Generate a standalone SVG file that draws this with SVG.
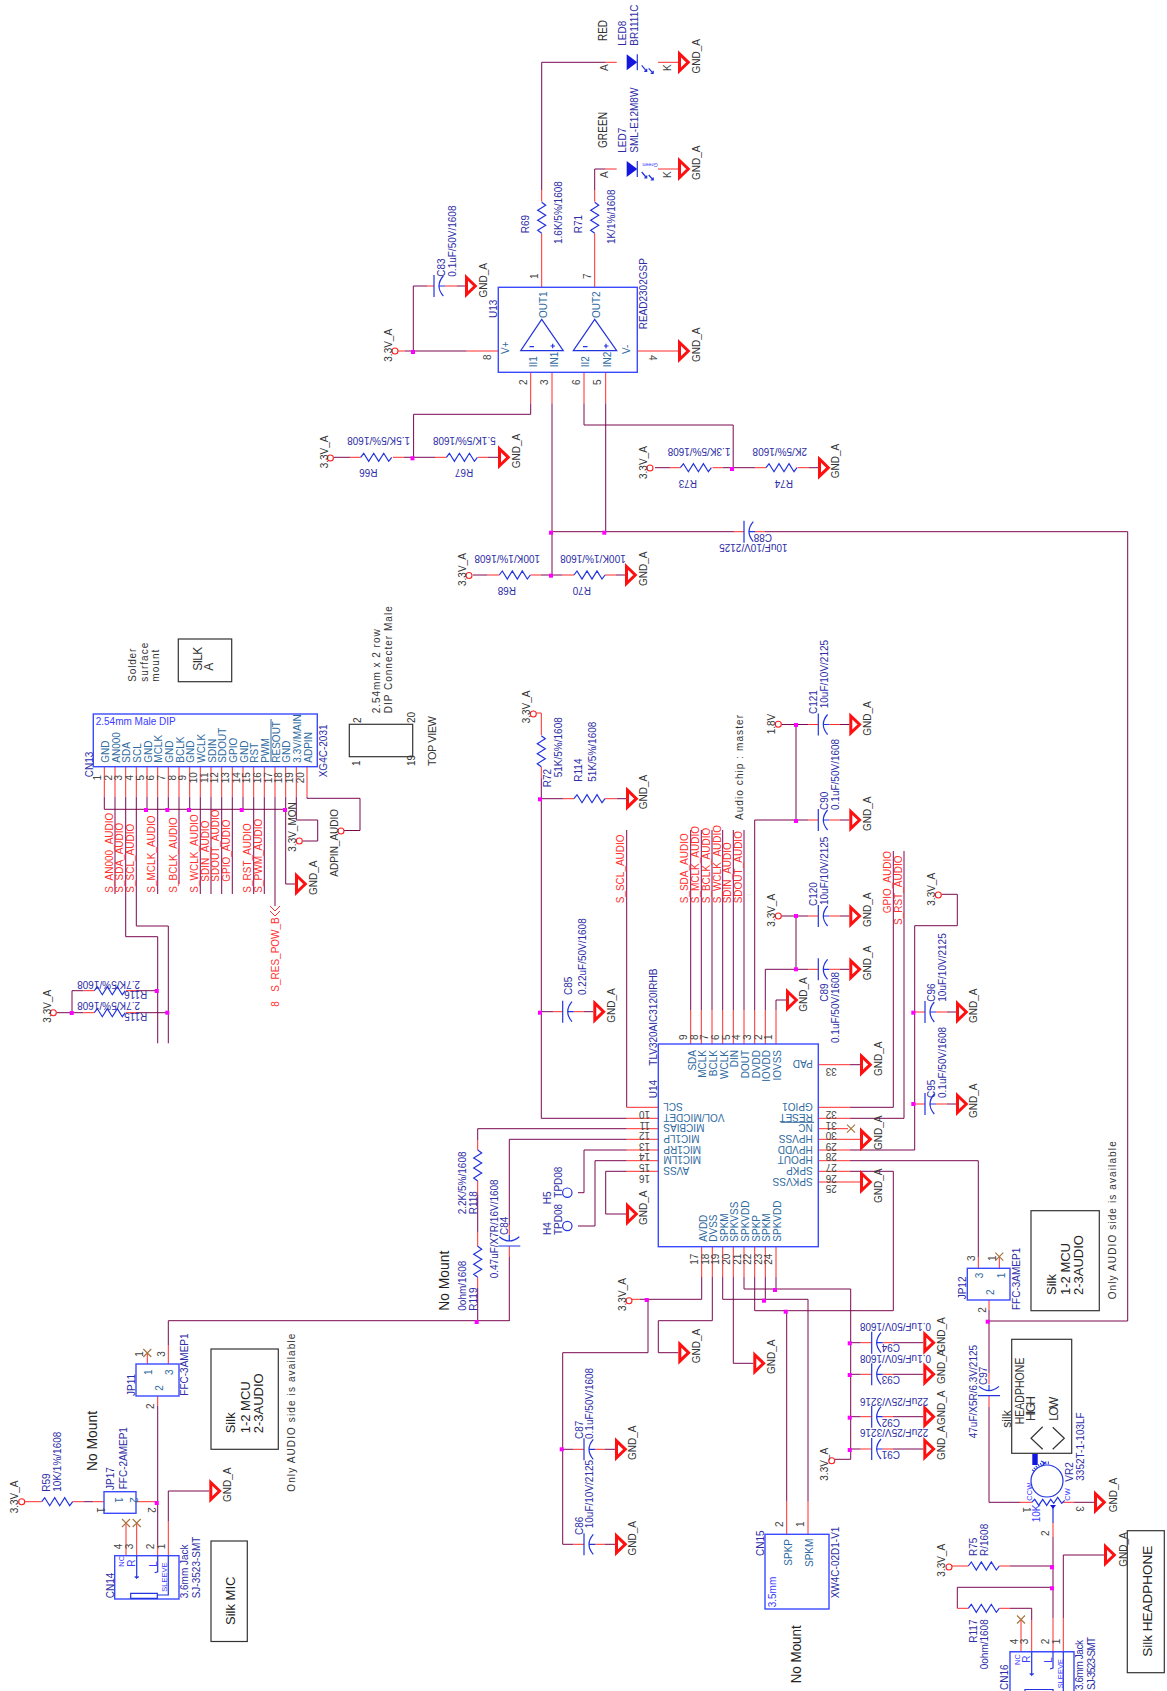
<svg xmlns="http://www.w3.org/2000/svg" width="1167" height="1691" viewBox="0 0 1167 1691">
<style>
text{font-family:"Liberation Sans",Arial,sans-serif;font-size:10px;fill:#2d2da5}
.n{fill:#2f6a9f}.k{fill:#333}.r{fill:#ff3030}.p{font-size:10px;fill:#444}.m{text-anchor:middle}.e{text-anchor:end}
.h{font-size:13px;fill:#222}.g{font-size:14px;fill:#222}.l{fill:#3a3aff}.s{font-size:7.5px;fill:#3a3aff}
.w{fill:none;stroke:#7a0850;stroke-width:1}.c{fill:none;stroke:#ff2a2a;stroke-width:1}
.u{fill:none;stroke:#2233e0;stroke-width:1.2}.bx{fill:none;stroke:#3a4aff;stroke-width:1.4}.sk{fill:none;stroke:#333;stroke-width:1.2}
</style>
<defs>
<path id="z" class="u" d="M0 0l3-4 5 8 5-8 5 8 5-8 5 8 3-4"/>
<polygon id="G" points="1.5,-8.5 10.3,0 1.5,8.5" fill="#fff" stroke="#ff1010" stroke-width="3"/>
<circle id="o" r="3" fill="#fff" stroke="#ff2020" stroke-width="1.1"/>
<rect id="j" x="-2" y="-2" width="4" height="4" fill="#f0f"/>
<g id="C" class="u"><path d="M0-11V11M9.3-10Q.7 0 9.3 10M5 0H11"/></g>
<path id="X" d="M-4-4L4 4M-4 4L4-4" fill="none" stroke="#a8703a" stroke-width="1.1"/>
<g id="D"><polygon points="0,-8 10.6,0 0,8" fill="#1515e0"/><path class="u" d="M10.6-8V8M15 3l5 6m-2.500 0h2.500v-2.500M22 6l4.500 5m-2.500 0h2.500v-2.500"/></g>
</defs>
<rect width="1167" height="1691" fill="#fff"/>

<g id="connectors">
<path class="w" d="M541.700 190V62.300H605.700M594.700 190V169H605.700M405 351H466.700M413.300 351V286H427M457 286H465M530.700 403.300V414.300H413.600V457.300M334 457.300H350M403.600 457.300H435M488 457.300H498M584 403.300V425H733.200V468.300M655 467.700H670M723 467.700H755.400M809 467.700H818M552 403.300V575.700M605.700 403.300V531.700M551 531.700H734M765 531.700H1127.700V1321H988.300M473 575H487.500M541 575H562.500M616 575H625"/>
<path class="c" d="M541.700 287.300V233.300M541.700 201.700V190M594.700 287.300V233.300M594.700 201.700V190M605.700 62.300H616.700M605.700 169H616.700M658 62.300H678M658 169H678M466.700 351H498.300M398 351H405M637.300 351H678M530.700 372.300V403.300M552 372.300V403.300M584 372.300V403.300M605.700 372.300V403.300M427 286H434M445 286H457M350 457.300H360.700M392.900 457.300H403.600M435 457.300H446.400M477.900 457.300H488M670 467.700H680.400M712.500 467.700H723M755.400 467.700H766M797.500 467.700H809M487.500 575H499.300M530.400 575H541M562.500 575H574M605 575H616M734 531.700H744M755 531.700H765"/>
<path class="w" d="M104.300 796.700V809.300H285.700M147 796.700V809.300M168.300 796.700V809.300M189.700 796.700V809.300M243 796.700V809.300M285.700 796.700V884H295M115 796.700V894M125.700 796.700V936.700H157.700V1043.300M136.300 796.700V926H168.300V1043.300M157.700 796.700V894M179 796.700V884M200.300 796.700V894M211 796.700V894M221.700 796.700V894M232.300 796.700V894M253.700 796.700V894M264.300 796.700V894M275 796.700V906M296.300 796.700V820H317.700V841H302.500M307 796.700V798.300H360V830.500H344M56.500 1012.700H83.300M72 1012.700V990.700H83.300M136 990.700H157.700M136 1012.700H168.300"/>
<path class="c" d="M104.300 766.700V796.700M115 766.700V796.700M125.700 766.700V796.700M136.300 766.700V796.700M147 766.700V796.700M157.700 766.700V796.700M168.300 766.700V796.700M179 766.700V796.700M189.700 766.700V796.700M200.300 766.700V796.700M211 766.700V796.700M221.700 766.700V796.700M232.300 766.700V796.700M243 766.700V796.700M253.700 766.700V796.700M264.300 766.700V796.700M275 766.700V796.700M285.700 766.700V796.700M296.300 766.700V796.700M307 766.700V796.700M83.300 990.700H94.300M126 990.700H136M83.300 1012.700H94.300M126 1012.700H136"/>
<path class="w" d="M541.300 778V1118.300H626.700M541.300 798.700H563.300M616.700 798.700H626M541.300 1011.700H553M584 1011.700H593.300M626.700 830V1107.300M690.700 1010V830M701.300 1010V830M712 1010V830M722.700 1010V830M733.300 1010V830M744 1010V830M754.700 1010V820H808.300M796 725V820M796 916V969.300M765.300 1010V969.300H808.300M776 1010V1000H786M781.500 724.500H808.300M781.500 916H808.300M840 724.500H849.300M840 820H849.300M840 916H849.300M840 969.300H849.300M850 1107.300H893.300V851M850 1118.300H904V851M850 1150H914.700V925.700H957.300V894.300H941.500M947 1012H956M947 1104H956M850 1160.700H978.300V1257M850 1171.300H893.300V1310.700H754.700V1277M850 1064.700H860"/>
<path class="c" d="M536.300 713H541.300V735M541.300 766.700V778M563.300 798.700H574M605 798.700H616.700M553 1011.700H562.700M573.700 1011.700H584M690.700 1044V1010M701.300 1044V1010M712 1044V1010M722.700 1044V1010M733.300 1044V1010M744 1044V1010M754.700 1044V1010M765.300 1044V1010M776 1044V1010M808.300 724.500H818.300M829.300 724.500H840M808.300 820H818.300M829.300 820H840M808.300 916H818.300M829.300 916H840M808.300 969.300H818.300M829.300 969.300H840M914.700 1012H925M936 1012H947M914.700 1104H925M936 1104H947M818.300 1064.700H850M818.300 1107.300H850M818.300 1118.300H850M818.300 1128.700H848M818.300 1139.300H860M818.300 1150H850M818.300 1160.700H850M818.300 1171.300H850M818.300 1182H860M658.300 1107.300H626.700M658.300 1118.300H626.700M658.300 1128.700H626.700M658.300 1139.300H626.700M658.300 1150H626.700M658.300 1160.700H626.700M658.300 1171.300H626.700"/>
<path class="w" d="M701.700 1277V1299.300H640M648 1299.300V1352.700H562.700V1544.300H573.300M562.700 1449.300H573.300M712.300 1277V1320.700H658.300V1352.700H678.300M722.700 1277V1299.300H808V1501M733.300 1277V1363.300H753.300M744 1277V1289H850.700V1459.300H835M765.300 1277V1299.300M776 1277V1289M786.700 1310.700V1501M850.700 1342.700H860.700M850.700 1374.300H860.700M850.700 1416.700H860.700M850.700 1449H860.700M893 1342.700H923.300M893 1374.300H923.300M893 1416.700H923.300M893 1449H923.300M605 1449.300H615M605 1544.300H615M626.700 1128.700H477.700V1140M477.700 1195V1232M477.700 1288V1321M626.700 1139.300H509.300V1225M509.300 1257V1321M168.300 1320.700H509.300M168.300 1320.700V1345M626.700 1150H584V1192.700H578M626.700 1160.700H595V1226H578M626.700 1171.300H605.700V1214H626M157.700 1406V1545M168.300 1521.700V1491H209.300M83.300 1501.700H93.300"/>
<path class="c" d="M701.700 1246.700V1277M712.300 1246.700V1277M722.700 1246.700V1277M733.300 1246.700V1277M744 1246.700V1277M754.700 1246.700V1277M765.300 1246.700V1277M776 1246.700V1277M632 1299.300H640M808 1501V1534.300M786.700 1501V1534.300M860.700 1342.700H871.700M882.700 1342.700H893M860.700 1374.300H871.700M882.700 1374.300H893M860.700 1416.700H871.700M882.700 1416.700H893M860.700 1449H871.700M882.700 1449H893M573.300 1449.300H584M595 1449.300H605M573.300 1544.300H584M595 1544.300H605M477.700 1140V1150M477.700 1181V1195M477.700 1232V1246.700M477.700 1277.300V1288M509.300 1225V1235M509.300 1246V1257M168.300 1345V1364M157.700 1396V1406M157.700 1545V1555.700M168.300 1555.700V1521.700M126 1555.700V1523M136.700 1555.700V1523M147.300 1364V1353M24.700 1501.700H41.700M72.700 1501.700H83.300M93.300 1501.700H104M136 1501.700H157"/>
<path class="w" d="M989 1310V1373M989 1406.700V1502.300H1020M1074 1502.300H1094M1053 1537V1618M1010 1566H1053M1053 1587.300H957.300V1608.300M1010 1608.300H1031.700V1620M1063.300 1618V1555H1104"/>
<path class="c" d="M978.300 1268.300V1257M999.300 1268.300V1257M989 1300V1310M989 1373V1384M989 1395.700V1406.700M1020 1502.300H1031.700M1063 1502.300H1074M1053 1523V1537M1053 1618V1651.700M952 1566H968.300M999.300 1566H1010M957.300 1608.300H968.300M999.300 1608.300H1010M1031.700 1620V1651.700M1021 1651.700V1620M1063.300 1651.700V1618"/>
<use href="#j" x="413" y="352"/><use href="#j" x="412.500" y="458.300"/><use href="#j" x="732" y="469"/><use href="#j" x="551" y="532.700"/><use href="#j" x="604.300" y="532.700"/><use href="#j" x="551" y="575.700"/>
<use href="#j" x="146" y="810"/><use href="#j" x="167.300" y="810"/><use href="#j" x="189" y="810"/><use href="#j" x="241.700" y="810"/><use href="#j" x="285" y="810"/><use href="#j" x="71.700" y="1013"/><use href="#j" x="156.700" y="991"/><use href="#j" x="167.300" y="1012.700"/>
<use href="#j" x="540" y="799.300"/><use href="#j" x="540" y="1012.700"/><use href="#j" x="796" y="725"/><use href="#j" x="796" y="821"/><use href="#j" x="796" y="916"/><use href="#j" x="796" y="969.300"/><use href="#j" x="913.300" y="1012.700"/><use href="#j" x="913.300" y="1104"/>
<use href="#j" x="646.700" y="1300"/><use href="#j" x="561.700" y="1449.300"/><use href="#j" x="764" y="1300.700"/><use href="#j" x="775" y="1290"/><use href="#j" x="785.700" y="1311.700"/><use href="#j" x="849.700" y="1343.300"/><use href="#j" x="849.700" y="1375"/><use href="#j" x="849.700" y="1417.700"/><use href="#j" x="849.700" y="1450"/>
<use href="#j" x="476.700" y="1322"/><use href="#j" x="156.700" y="1503"/><use href="#j" x="987.700" y="1321.700"/><use href="#j" x="1052" y="1567.300"/><use href="#j" x="1052" y="1588.300"/>
</g>

<g id="gnd-symbols">
<use href="#G" x="678" y="62.300"/><text transform="matrix(0 -1 1 0 700 73.500)" class="k">GND_A</text>
<use href="#G" x="678" y="169"/><text transform="matrix(0 -1 1 0 700 180)" class="k">GND_A</text>
<use href="#G" x="465" y="286"/><text transform="matrix(0 -1 1 0 487 297.500)" class="k">GND_A</text>
<use href="#G" x="678" y="351"/><text transform="matrix(0 -1 1 0 700 362)" class="k">GND_A</text>
<use href="#G" x="498" y="457.300"/><text transform="matrix(0 -1 1 0 519.600 468.300)" class="k">GND_A</text>
<use href="#G" x="818" y="467.700"/><text transform="matrix(0 -1 1 0 838.600 478.300)" class="k">GND_A</text>
<use href="#G" x="625" y="575"/><text transform="matrix(0 -1 1 0 647 586)" class="k">GND_A</text>
<use href="#G" x="295" y="884"/><text transform="matrix(0 -1 1 0 316.700 895)" class="k">GND_A</text>
<use href="#G" x="626" y="798.700"/><text transform="matrix(0 -1 1 0 646.700 809.300)" class="k">GND_A</text>
<use href="#G" x="593.300" y="1011.700"/><text transform="matrix(0 -1 1 0 615 1022.700)" class="k">GND_A</text>
<use href="#G" x="849.300" y="724.500"/><text transform="matrix(0 -1 1 0 870.700 735.700)" class="k">GND_A</text>
<use href="#G" x="849.300" y="820"/><text transform="matrix(0 -1 1 0 870.700 831)" class="k">GND_A</text>
<use href="#G" x="849.300" y="916"/><text transform="matrix(0 -1 1 0 870.700 927)" class="k">GND_A</text>
<use href="#G" x="849.300" y="969.300"/><text transform="matrix(0 -1 1 0 870.700 980.300)" class="k">GND_A</text>
<use href="#G" x="786" y="1000"/><text transform="matrix(0 -1 1 0 806.700 1011.700)" class="k">GND_A</text>
<use href="#G" x="956" y="1012"/><text transform="matrix(0 -1 1 0 976.700 1023)" class="k">GND_A</text>
<use href="#G" x="956" y="1104"/><text transform="matrix(0 -1 1 0 976.700 1118)" class="k">GND_A</text>
<use href="#G" x="860" y="1064.700"/><text transform="matrix(0 -1 1 0 881.700 1076)" class="k">GND_A</text>
<use href="#G" x="860" y="1139.300"/><text transform="matrix(0 -1 1 0 881.700 1150)" class="k">GND_A</text>
<use href="#G" x="860" y="1182"/><text transform="matrix(0 -1 1 0 881.700 1203)" class="k">GND_A</text>
<use href="#G" x="626" y="1214"/><text transform="matrix(0 -1 1 0 646.700 1225)" class="k">GND_A</text>
<use href="#G" x="678.300" y="1352.700"/><text transform="matrix(0 -1 1 0 700 1363.300)" class="k">GND_A</text>
<use href="#G" x="753.300" y="1363.300"/><text transform="matrix(0 -1 1 0 775 1374)" class="k">GND_A</text>
<use href="#G" x="923.300" y="1342.700"/><text transform="matrix(0 -1 1 0 945 1351.700)" class="k">GND_A</text>
<use href="#G" x="923.300" y="1374.300"/><text transform="matrix(0 -1 1 0 945 1384)" class="k">GND_A</text>
<use href="#G" x="923.300" y="1416.700"/><text transform="matrix(0 -1 1 0 945 1425)" class="k">GND_A</text>
<use href="#G" x="923.300" y="1449"/><text transform="matrix(0 -1 1 0 945 1460)" class="k">GND_A</text>
<use href="#G" x="615" y="1449.300"/><text transform="matrix(0 -1 1 0 636 1460)" class="k">GND_A</text>
<use href="#G" x="615" y="1544.300"/><text transform="matrix(0 -1 1 0 636 1555.500)" class="k">GND_A</text>
<use href="#G" x="209.300" y="1491"/><text transform="matrix(0 -1 1 0 230.700 1502)" class="k">GND_A</text>
<use href="#G" x="1094" y="1502.300"/><text transform="matrix(0 -1 1 0 1116.700 1512.300)" class="k">GND_A</text>
<use href="#G" x="1104" y="1555"/><text transform="matrix(0 -1 1 0 1126.700 1566.700)" class="k">GND_A</text>
</g>

<g id="power-ports">
<use href="#o" x="395" y="351"/><text transform="matrix(0 -1 1 0 391.700 361.700)" class="k">3.3V_A</text>
<use href="#o" x="330.400" y="458"/><text transform="matrix(0 -1 1 0 327.500 468.300)" class="k">3.3V_A</text>
<use href="#o" x="650" y="468"/><text transform="matrix(0 -1 1 0 647 479)" class="k">3.3V_A</text>
<use href="#o" x="469" y="575.500"/><text transform="matrix(0 -1 1 0 466 586)" class="k">3.3V_A</text>
<use href="#o" x="533.300" y="714"/><text transform="matrix(0 -1 1 0 530 723.300)" class="k">3.3V_A</text>
<use href="#o" x="778.300" y="916"/><text transform="matrix(0 -1 1 0 775 926.700)" class="k">3.3V_A</text>
<use href="#o" x="938.300" y="895"/><text transform="matrix(0 -1 1 0 935 905.700)" class="k">3.3V_A</text>
<use href="#o" x="53.300" y="1012.700"/><text transform="matrix(0 -1 1 0 50.700 1022.700)" class="k">3.3V_A</text>
<use href="#o" x="629" y="1300.700"/><text transform="matrix(0 -1 1 0 626 1311)" class="k">3.3V_A</text>
<use href="#o" x="831.700" y="1460.700"/><text transform="matrix(0 -1 1 0 828.300 1480.700)" class="k">3.3V_A</text>
<use href="#o" x="21.700" y="1501.700"/><text transform="matrix(0 -1 1 0 18.300 1513.300)" class="k">3.3V_A</text>
<use href="#o" x="949" y="1567"/><text transform="matrix(0 -1 1 0 945 1576.700)" class="k">3.3V_A</text>
<use href="#o" x="778.300" y="724.300"/><text transform="matrix(0 -1 1 0 775 734.300)" class="k">1.8V</text>
<use href="#o" x="299.300" y="841"/><text transform="matrix(0 -1 1 0 295.700 851.700)" class="k">3.3V_MON</text>
<use href="#o" x="341" y="831"/><text transform="matrix(0 -1 1 0 338 876.700)" class="k">ADPIN_AUDIO</text>
</g>

<g id="LED8"><use href="#D" x="626.700" y="62.300"/>
<text transform="matrix(0 -1 1 0 606.700 41)" class="k" style="font-size:12px" textLength="21" lengthAdjust="spacingAndGlyphs">RED</text>
<text transform="matrix(0 -1 1 0 625.500 45.700)">LED8</text><text transform="matrix(0 -1 1 0 638 45.700)">BR1111C</text>
<text transform="matrix(0 -1 1 0 608 71)" class="p">A</text><text transform="matrix(0 -1 1 0 671 71)" class="p">K</text></g>
<g id="LED7"><use href="#D" x="626.700" y="169"/>
<text transform="matrix(0 -1 1 0 606.700 148)" class="k" style="font-size:12px" textLength="36" lengthAdjust="spacingAndGlyphs">GREEN</text>
<text transform="matrix(0 -1 1 0 625.500 152.700)">LED7</text><text transform="matrix(0 -1 1 0 638 152.700)">SML-E12M8W</text>
<text transform="matrix(-1 0 0 -1 657.700 162.500)" style="font-size:5.500px;fill:#3a3aff">Green</text>
<text transform="matrix(0 -1 1 0 608 178)" class="p">A</text><text transform="matrix(0 -1 1 0 671 178)" class="p">K</text></g>
<g id="R69"><use href="#z" transform="translate(541.700 233.300) rotate(-90)"/><text transform="matrix(0 -1 1 0 529.300 233.300)">R69</text><text transform="matrix(0 -1 1 0 562 244)">1.6K/5%/1608</text></g>
<g id="R71"><use href="#z" transform="translate(594.700 233.300) rotate(-90)"/><text transform="matrix(0 -1 1 0 582.300 233.300)">R71</text><text transform="matrix(0 -1 1 0 615 244)">1K/1%/1608</text></g>
<g id="C83"><use href="#C" x="434" y="286"/><text transform="matrix(0 -1 1 0 445 276.700)">C83</text><text transform="matrix(0 -1 1 0 455.500 276.700)">0.1uF/50V/1608</text></g>

<g id="U13"><rect class="bx" x="498.300" y="287.300" width="139" height="85"/>
<path class="u" d="M541.700 319.300L520.700 350.700H563.300ZM594.700 319.300L573.300 350.700H616.700ZM529.500 346.700h4.500M550.500 346h4.500M552.700 343.700v4.500M583 346.700h4.500M604 346h4.500M606 343.700v4.500"/>
<text transform="matrix(0 -1 1 0 497 318)">U13</text><text transform="matrix(0 -1 1 0 646.500 329.300)">READ2302GSP</text>
<text transform="matrix(0 -1 1 0 546.700 318)" class="n">OUT1</text><text transform="matrix(0 -1 1 0 600 318)" class="n">OUT2</text>
<text transform="matrix(0 -1 1 0 509.300 354)" class="n">V+</text><text transform="matrix(0 -1 1 0 630 354)" class="n">V-</text>
<text transform="matrix(0 -1 1 0 536.500 367.300)" class="n">II1</text><text transform="matrix(0 -1 1 0 557.500 367.300)" class="n">IN1</text><text transform="matrix(0 -1 1 0 589 367.300)" class="n">II2</text><text transform="matrix(0 -1 1 0 610.500 367.300)" class="n">IN2</text>
<text transform="matrix(0 -1 1 0 538 279)" class="p">1</text><text transform="matrix(0 -1 1 0 590.500 279)" class="p">7</text><text transform="matrix(0 -1 1 0 490.700 360)" class="p">8</text><text transform="matrix(0 1 -1 0 649 355)" class="p">4</text>
<text transform="matrix(0 -1 1 0 526.700 385)" class="p">2</text><text transform="matrix(0 -1 1 0 548 385)" class="p">3</text><text transform="matrix(0 -1 1 0 580 385)" class="p">6</text><text transform="matrix(0 -1 1 0 601 385)" class="p">5</text></g>

<g id="R66"><use href="#z" x="360.700" y="457.300"/><text transform="matrix(-1 0 0 -1 410 437.300)">1.5K/5%/1608</text><text transform="matrix(-1 0 0 -1 377.500 469.300)">R66</text></g>
<g id="R67"><use href="#z" x="446.400" y="457.300"/><text transform="matrix(-1 0 0 -1 495.700 437.300)">5.1K/5%/1608</text><text transform="matrix(-1 0 0 -1 473.200 469.300)">R67</text></g>
<g id="R73"><use href="#z" x="680.400" y="467.700"/><text transform="matrix(-1 0 0 -1 730.400 447.700)">1.3K/5%/1608</text><text transform="matrix(-1 0 0 -1 697 480)">R73</text></g>
<g id="R74"><use href="#z" x="766" y="467.700"/><text transform="matrix(-1 0 0 -1 807 447.700)">2K/5%/1608</text><text transform="matrix(-1 0 0 -1 793 480)">R74</text></g>
<g id="R68"><use href="#z" x="499.300" y="575"/><text transform="matrix(-1 0 0 -1 540 555)">100K/1%/1608</text><text transform="matrix(-1 0 0 -1 516 587.300)">R68</text></g>
<g id="R70"><use href="#z" x="574" y="575"/><text transform="matrix(-1 0 0 -1 625.700 555)">100K/1%/1608</text><text transform="matrix(-1 0 0 -1 591 587.300)">R70</text></g>
<g id="C88"><use href="#C" x="744" y="531.700"/><text transform="matrix(-1 0 0 -1 772 534)">C88</text><text transform="matrix(-1 0 0 -1 787.500 544)">10uF/10V/2125</text></g>

<g id="silk-a"><rect class="sk" x="178.300" y="639" width="53.400" height="42.700"/>
<text transform="matrix(0 -1 1 0 201.700 670.700)" class="k" style="font-size:12px" textLength="24">SILK</text><text transform="matrix(0 -1 1 0 213 670.700)" class="k" style="font-size:12px">A</text>
<text transform="matrix(0 -1 1 0 135.700 681.700)" class="k" textLength="33">Solder</text><text transform="matrix(0 -1 1 0 147.500 681.700)" class="k" textLength="39">surface</text><text transform="matrix(0 -1 1 0 159 681.700)" class="k" textLength="32">mount</text></g>
<g id="dip-view"><rect class="sk" x="349.300" y="724.300" width="63.400" height="32.400"/>
<text transform="matrix(0 -1 1 0 360.700 723)" class="k">2</text><text transform="matrix(0 -1 1 0 360 766)" class="k">1</text><text transform="matrix(0 -1 1 0 415 723)" class="k">20</text><text transform="matrix(0 -1 1 0 415 766)" class="k">19</text>
<text transform="matrix(0 -1 1 0 380 713.300)" class="k" textLength="84">2.54mm x 2 row</text><text transform="matrix(0 -1 1 0 391.700 713.300)" class="k" textLength="107">DIP Connecter Male</text>
<text transform="matrix(0 -1 1 0 436 766)" class="k" style="font-size:11px" textLength="50">TOP VIEW</text></g>

<g id="CN13"><rect class="bx" x="93.300" y="714" width="224" height="52.700"/>
<text x="95.700" y="725" class="l">2.54mm Male DIP</text>
<path d="M271 719V762" fill="none" stroke="#2f6a9f"/>
<text transform="matrix(0 -1 1 0 93 777.300)">CN13</text><text transform="matrix(0 -1 1 0 327 777.300)">XG4C-2031</text>
<text transform="matrix(0 -1 1 0 109 762.700)" class="n">GND</text><text transform="matrix(0 -1 1 0 119.700 762.700)" class="n">AN000</text><text transform="matrix(0 -1 1 0 130.400 762.700)" class="n">SDA</text><text transform="matrix(0 -1 1 0 141 762.700)" class="n">SCL</text><text transform="matrix(0 -1 1 0 151.700 762.700)" class="n">GND</text><text transform="matrix(0 -1 1 0 162.400 762.700)" class="n">MCLK</text><text transform="matrix(0 -1 1 0 173 762.700)" class="n">GND</text><text transform="matrix(0 -1 1 0 183.700 762.700)" class="n">BCLK</text><text transform="matrix(0 -1 1 0 194.400 762.700)" class="n">GND</text><text transform="matrix(0 -1 1 0 205 762.700)" class="n">WCLK</text><text transform="matrix(0 -1 1 0 215.700 762.700)" class="n">SDIN</text><text transform="matrix(0 -1 1 0 226.400 762.700)" class="n">SDOUT</text><text transform="matrix(0 -1 1 0 237 762.700)" class="n">GPIO</text><text transform="matrix(0 -1 1 0 247.700 762.700)" class="n">GND</text><text transform="matrix(0 -1 1 0 258.400 762.700)" class="n">RST</text><text transform="matrix(0 -1 1 0 269 762.700)" class="n">PWM</text><text transform="matrix(0 -1 1 0 279.700 762.700)" class="n">RESOUT</text><text transform="matrix(0 -1 1 0 290.400 762.700)" class="n">GND</text><text transform="matrix(0 -1 1 0 301 762.700)" class="n">3.3V/MAIN</text><text transform="matrix(0 -1 1 0 311.700 762.700)" class="n">ADPIN</text>
<text transform="matrix(0 -1 1 0 100.800 777.700)" class="p m">1</text><text transform="matrix(0 -1 1 0 111.500 777.700)" class="p m">2</text><text transform="matrix(0 -1 1 0 122.200 777.700)" class="p m">3</text><text transform="matrix(0 -1 1 0 132.800 777.700)" class="p m">4</text><text transform="matrix(0 -1 1 0 143.500 777.700)" class="p m">5</text><text transform="matrix(0 -1 1 0 154.200 777.700)" class="p m">6</text><text transform="matrix(0 -1 1 0 164.800 777.700)" class="p m">7</text><text transform="matrix(0 -1 1 0 175.500 777.700)" class="p m">8</text><text transform="matrix(0 -1 1 0 186.200 777.700)" class="p m">9</text><text transform="matrix(0 -1 1 0 196.800 777.700)" class="p m">10</text><text transform="matrix(0 -1 1 0 207.500 777.700)" class="p m">11</text><text transform="matrix(0 -1 1 0 218.200 777.700)" class="p m">12</text><text transform="matrix(0 -1 1 0 228.800 777.700)" class="p m">13</text><text transform="matrix(0 -1 1 0 239.500 777.700)" class="p m">14</text><text transform="matrix(0 -1 1 0 250.200 777.700)" class="p m">15</text><text transform="matrix(0 -1 1 0 260.800 777.700)" class="p m">16</text><text transform="matrix(0 -1 1 0 271.500 777.700)" class="p m">17</text><text transform="matrix(0 -1 1 0 282.200 777.700)" class="p m">18</text><text transform="matrix(0 -1 1 0 292.800 777.700)" class="p m">19</text><text transform="matrix(0 -1 1 0 303.500 777.700)" class="p m">20</text></g>

<g id="nets-cn13">
<text transform="matrix(0 -1 1 0 112.700 892.700)" class="r">S_AN000_AUDIO</text><text transform="matrix(0 -1 1 0 123.300 892.700)" class="r">S_SDA_AUDIO</text><text transform="matrix(0 -1 1 0 134 892.700)" class="r">S_SCL_AUDIO</text><text transform="matrix(0 -1 1 0 155.300 892.700)" class="r">S_MCLK_AUDIO</text><text transform="matrix(0 -1 1 0 176.700 892.700)" class="r">S_BCLK_AUDIO</text><text transform="matrix(0 -1 1 0 198 892.700)" class="r">S_WCLK_AUDIO</text><text transform="matrix(0 -1 1 0 208.500 881.700)" class="r">SDIN_AUDIO</text><text transform="matrix(0 -1 1 0 219.300 881.700)" class="r">SDOUT_AUDIO</text><text transform="matrix(0 -1 1 0 230 881.700)" class="r">GPIO_AUDIO</text><text transform="matrix(0 -1 1 0 251.300 892.700)" class="r">S_RST_AUDIO</text><text transform="matrix(0 -1 1 0 262 892.700)" class="r">S_PWM_AUDIO</text>
<path d="M270 906l5 5 5-5M270 911l5 5 5-5" fill="none" stroke="#ff3030"/>
<text transform="matrix(0 -1 1 0 279 991.700)" class="r">S_RES_POW_B</text><text transform="matrix(0 -1 1 0 279 1006.700)" class="r">8</text></g>
<g id="R116"><use href="#z" x="94.300" y="990.700"/><text transform="matrix(-1 0 0 -1 140 980.700)">2.7K/5%/1608</text><text transform="matrix(-1 0 0 -1 147.300 991)">R116</text></g>
<g id="R115"><use href="#z" x="94.300" y="1012.700"/><text transform="matrix(-1 0 0 -1 140 1002.300)">2.7K/5%/1608</text><text transform="matrix(-1 0 0 -1 147.300 1012.700)">R115</text></g>

<g id="R72"><use href="#z" transform="translate(541.300 766.700) rotate(-90)"/><text transform="matrix(0 -1 1 0 550.700 787.300)">R72</text><text transform="matrix(0 -1 1 0 561.700 777.300)">51K/5%/1608</text></g>
<g id="R114"><use href="#z" x="574" y="798.700"/><text transform="matrix(0 -1 1 0 582.300 781.700)">R114</text><text transform="matrix(0 -1 1 0 595.700 781.700)">51K/5%/1608</text></g>
<g id="C85"><use href="#C" x="562.700" y="1011.700"/><text transform="matrix(0 -1 1 0 571.700 995)">C85</text><text transform="matrix(0 -1 1 0 585.700 995)">0.22uF/50V/1608</text></g>
<g id="nets-u14">
<text transform="matrix(0 -1 1 0 624.300 903.300)" class="r">S_SCL_AUDIO</text><text transform="matrix(0 -1 1 0 688.300 903.300)" class="r">S_SDA_AUDIO</text><text transform="matrix(0 -1 1 0 699 903.300)" class="r">S_MCLK_AUDIO</text><text transform="matrix(0 -1 1 0 709.700 903.300)" class="r">S_BCLK_AUDIO</text><text transform="matrix(0 -1 1 0 720.700 903.300)" class="r">S_WCLK_AUDIO</text><text transform="matrix(0 -1 1 0 730.700 903.300)" class="r">SDIN_AUDIO</text><text transform="matrix(0 -1 1 0 741.700 903.300)" class="r">SDOUT_AUDIO</text><text transform="matrix(0 -1 1 0 890.700 913.300)" class="r">GPIO_AUDIO</text><text transform="matrix(0 -1 1 0 901.700 925)" class="r">S_RST_AUDIO</text>
<text transform="matrix(0 -1 1 0 742.700 820)" class="k" textLength="105">Audio chip : master</text></g>
<g id="C121"><use href="#C" x="818.300" y="724.500"/><text transform="matrix(0 -1 1 0 817.300 714)">C121</text><text transform="matrix(0 -1 1 0 828.300 708.300)">10uF/10V/2125</text></g>
<g id="C90"><use href="#C" x="818.300" y="820"/><text transform="matrix(0 -1 1 0 828.300 810)">C90</text><text transform="matrix(0 -1 1 0 839 810)">0.1uF/50V/1608</text></g>
<g id="C120"><use href="#C" x="818.300" y="916"/><text transform="matrix(0 -1 1 0 817.300 906)">C120</text><text transform="matrix(0 -1 1 0 828.300 905)">10uF/10V/2125</text></g>
<g id="C89"><use href="#C" x="818.300" y="969.300"/><text transform="matrix(0 -1 1 0 828.300 1001.700)">C89</text><text transform="matrix(0 -1 1 0 839 1043)">0.1uF/50V/1608</text></g>
<g id="C96"><use href="#C" x="925" y="1012"/><text transform="matrix(0 -1 1 0 935 1001.700)">C96</text><text transform="matrix(0 -1 1 0 945.700 1001.700)">10uF/10V/2125</text></g>
<g id="C95"><use href="#C" x="925" y="1104"/><text transform="matrix(0 -1 1 0 935 1098)">C95</text><text transform="matrix(0 -1 1 0 945.700 1098)">0.1uF/50V/1608</text></g>

<g id="U14"><rect class="bx" x="658.300" y="1044" width="160" height="202.700"/>
<text transform="matrix(0 -1 1 0 657.300 1098.300)">U14</text><text transform="matrix(0 -1 1 0 657.300 1065.700)">TLV320AIC3120IRHB</text>
<text transform="matrix(0 -1 1 0 695.700 1050)" class="n e">SDA</text><text transform="matrix(0 -1 1 0 706.300 1050)" class="n e">MCLK</text><text transform="matrix(0 -1 1 0 717 1050)" class="n e">BCLK</text><text transform="matrix(0 -1 1 0 727.700 1050)" class="n e">WCLK</text><text transform="matrix(0 -1 1 0 738.300 1050)" class="n e">DIN</text><text transform="matrix(0 -1 1 0 749 1050)" class="n e">DOUT</text><text transform="matrix(0 -1 1 0 759.700 1050)" class="n e">DVDD</text><text transform="matrix(0 -1 1 0 770.300 1050)" class="n e">IOVDD</text><text transform="matrix(0 -1 1 0 781 1050)" class="n e">IOVSS</text>
<text transform="matrix(0 -1 1 0 687 1040)" class="p">9</text><text transform="matrix(0 -1 1 0 697.700 1040)" class="p">8</text><text transform="matrix(0 -1 1 0 708.300 1040)" class="p">7</text><text transform="matrix(0 -1 1 0 719 1040)" class="p">6</text><text transform="matrix(0 -1 1 0 729.700 1040)" class="p">5</text><text transform="matrix(0 -1 1 0 740.300 1040)" class="p">4</text><text transform="matrix(0 -1 1 0 751 1040)" class="p">3</text><text transform="matrix(0 -1 1 0 761.700 1040)" class="p">2</text><text transform="matrix(0 -1 1 0 772.300 1040)" class="p">1</text>
<text transform="matrix(-1 0 0 -1 812.700 1060)" class="n">PAD</text><text transform="matrix(-1 0 0 -1 836.700 1068.300)" class="p">33</text>
<text transform="matrix(-1 0 0 -1 663.300 1102.700)" class="n e">SCL</text><text transform="matrix(-1 0 0 -1 663.300 1114)" class="n e">VOL/MICDET</text><text transform="matrix(-1 0 0 -1 663.300 1124)" class="n e">MICBIAS</text><text transform="matrix(-1 0 0 -1 663.300 1135)" class="n e">MIC1LP</text><text transform="matrix(-1 0 0 -1 663.300 1146)" class="n e">MIC1RP</text><text transform="matrix(-1 0 0 -1 663.300 1156)" class="n e">MIC1LM</text><text transform="matrix(-1 0 0 -1 663.300 1166.700)" class="n e">AVSS</text>
<text transform="matrix(-1 0 0 -1 650 1110.700)" class="p">10</text><text transform="matrix(-1 0 0 -1 650 1121.700)" class="p">11</text><text transform="matrix(-1 0 0 -1 650 1132)" class="p">12</text><text transform="matrix(-1 0 0 -1 650 1142.700)" class="p">13</text><text transform="matrix(-1 0 0 -1 650 1153.300)" class="p">14</text><text transform="matrix(-1 0 0 -1 650 1164)" class="p">15</text><text transform="matrix(-1 0 0 -1 650 1174.700)" class="p">16</text>
<text transform="matrix(-1 0 0 -1 812.700 1102.700)" class="n">GPIO1</text><text transform="matrix(-1 0 0 -1 812.700 1114.300)" class="n">RESET</text><path d="M780.700 1122.300H814" fill="none" stroke="#2f6a9f"/><text transform="matrix(-1 0 0 -1 812.700 1124)" class="n">NC</text><text transform="matrix(-1 0 0 -1 812.700 1135)" class="n">HPVSS</text><text transform="matrix(-1 0 0 -1 812.700 1146)" class="n">HPVDD</text><text transform="matrix(-1 0 0 -1 812.700 1156)" class="n">HPOUT</text><text transform="matrix(-1 0 0 -1 812.700 1166.700)" class="n">SPKP</text><text transform="matrix(-1 0 0 -1 812.700 1177.700)" class="n">SPKVSS</text>
<text transform="matrix(-1 0 0 -1 836.700 1110.700)" class="p">32</text><text transform="matrix(-1 0 0 -1 836.700 1121.700)" class="p">31</text><text transform="matrix(-1 0 0 -1 836.700 1132)" class="p">30</text><text transform="matrix(-1 0 0 -1 836.700 1142.700)" class="p">29</text><text transform="matrix(-1 0 0 -1 836.700 1153.300)" class="p">28</text><text transform="matrix(-1 0 0 -1 836.700 1164)" class="p">27</text><text transform="matrix(-1 0 0 -1 836.700 1174.700)" class="p">26</text><text transform="matrix(-1 0 0 -1 836.700 1185.300)" class="p">25</text>
<text transform="matrix(0 -1 1 0 706.700 1241.700)" class="n">AVDD</text><text transform="matrix(0 -1 1 0 717.300 1241.700)" class="n">DVSS</text><text transform="matrix(0 -1 1 0 727.700 1241.700)" class="n">SPKM</text><text transform="matrix(0 -1 1 0 738.300 1241.700)" class="n">SPKVSS</text><text transform="matrix(0 -1 1 0 749 1241.700)" class="n">SPKVDD</text><text transform="matrix(0 -1 1 0 759.700 1241.700)" class="n">SPKP</text><text transform="matrix(0 -1 1 0 770.300 1241.700)" class="n">SPKM</text><text transform="matrix(0 -1 1 0 781 1241.700)" class="n">SPKVDD</text>
<text transform="matrix(0 -1 1 0 698.300 1259.300)" class="p m">17</text><text transform="matrix(0 -1 1 0 708.800 1259.300)" class="p m">18</text><text transform="matrix(0 -1 1 0 719.300 1259.300)" class="p m">19</text><text transform="matrix(0 -1 1 0 729.800 1259.300)" class="p m">20</text><text transform="matrix(0 -1 1 0 740.500 1259.300)" class="p m">21</text><text transform="matrix(0 -1 1 0 751 1259.300)" class="p m">22</text><text transform="matrix(0 -1 1 0 761.700 1259.300)" class="p m">23</text><text transform="matrix(0 -1 1 0 772.300 1259.300)" class="p m">24</text>
<use href="#X" x="851" y="1128.700"/></g>

<g id="R118"><use href="#z" transform="translate(477.700 1181) rotate(-90)"/><text transform="matrix(0 -1 1 0 466.300 1214.300)">2.2K/5%/1608</text><text transform="matrix(0 -1 1 0 476.700 1214.300)">R118</text></g>
<g id="R119"><use href="#z" transform="translate(477.700 1277.300) rotate(-90)"/><text transform="matrix(0 -1 1 0 466.300 1310.700)">0ohm/1608</text><text transform="matrix(0 -1 1 0 476.700 1310.700)">R119</text>
<text transform="matrix(0 -1 1 0 449.300 1310.700)" class="g" textLength="60" lengthAdjust="spacingAndGlyphs">No Mount</text></g>
<g id="C84"><use href="#C" transform="translate(509.300 1246) rotate(-90)"/><text transform="matrix(0 -1 1 0 498.300 1278.300)">0.47uF/X7R/16V/1608</text><text transform="matrix(0 -1 1 0 508.300 1235)">C84</text></g>
<g id="H5"><circle class="u" cx="567.300" cy="1192.700" r="4.700"/><text transform="matrix(0 -1 1 0 550.700 1204.300)">H5</text><text transform="matrix(0 -1 1 0 561.700 1197.700)">TPD08</text></g>
<g id="H4"><circle class="u" cx="567.300" cy="1226" r="4.700"/><text transform="matrix(0 -1 1 0 550.700 1235)">H4</text><text transform="matrix(0 -1 1 0 561.700 1235)">TPD08</text></g>
<g id="C87"><use href="#C" x="584" y="1449.300"/><text transform="matrix(0 -1 1 0 582.700 1439)">C87</text><text transform="matrix(0 -1 1 0 593.300 1439)">0.1uF/50V/1608</text></g>
<g id="C86"><use href="#C" x="584" y="1544.300"/><text transform="matrix(0 -1 1 0 582.700 1535)">C86</text><text transform="matrix(0 -1 1 0 593.300 1528.300)">10uF/10V/2125</text></g>
<g id="C94"><use href="#C" x="871.700" y="1342.700"/><text transform="matrix(-1 0 0 -1 931 1322.700)">0.1uF/50V/1608</text><text transform="matrix(-1 0 0 -1 900 1344)">C94</text></g>
<g id="C93"><use href="#C" x="871.700" y="1374.300"/><text transform="matrix(-1 0 0 -1 931 1355)">0.1uF/50V/1608</text><text transform="matrix(-1 0 0 -1 900 1376)">C93</text></g>
<g id="C92"><use href="#C" x="871.700" y="1416.700"/><text transform="matrix(-1 0 0 -1 928.300 1397.700)">22uF/25V/3216</text><text transform="matrix(-1 0 0 -1 900 1419)">C92</text></g>
<g id="C91"><use href="#C" x="871.700" y="1449"/><text transform="matrix(-1 0 0 -1 928.300 1429.300)">22uF/25V/3216</text><text transform="matrix(-1 0 0 -1 900 1451)">C91</text></g>

<g id="CN15"><rect class="bx" x="765" y="1534.300" width="64" height="74.700"/>
<text transform="matrix(0 -1 1 0 764 1556)">CN15</text><text transform="matrix(0 -1 1 0 839 1598.300)">XW4C-02D1-V1</text><text transform="matrix(0 -1 1 0 775.700 1607.300)" class="l">3.5mm</text>
<text transform="matrix(0 -1 1 0 792.300 1565.700)" class="n">SPKP</text><text transform="matrix(0 -1 1 0 813.300 1567)" class="n">SPKM</text>
<text transform="matrix(0 -1 1 0 783.300 1527)" class="p">2</text><text transform="matrix(0 -1 1 0 804 1527)" class="p">1</text>
<text transform="matrix(0 -1 1 0 800.700 1683.300)" class="g" textLength="58" lengthAdjust="spacingAndGlyphs">No Mount</text></g>

<g id="JP11"><rect class="bx" x="136" y="1364" width="43" height="32"/><use href="#X" x="147.300" y="1353"/>
<text transform="matrix(0 -1 1 0 135 1396)">JP11</text><text transform="matrix(0 -1 1 0 188.300 1395.700)">FFC-3AMEP1</text>
<text transform="matrix(0 -1 1 0 152.300 1375)" class="n">1</text><text transform="matrix(0 -1 1 0 173.300 1375)" class="n">3</text><text transform="matrix(0 -1 1 0 162.700 1390.700)" class="n">2</text>
<text transform="matrix(0 -1 1 0 142.700 1356.700)" class="p">1</text><text transform="matrix(0 -1 1 0 165 1356.700)" class="p">3</text><text transform="matrix(0 -1 1 0 154.300 1409)" class="p">2</text></g>
<g id="silk-left"><rect class="sk" x="211" y="1349" width="67.300" height="100.300"/>
<text transform="matrix(0 -1 1 0 235 1433.300)" class="h">Silk</text><text transform="matrix(0 -1 1 0 250 1433.300)" class="h">1-2 MCU</text><text transform="matrix(0 -1 1 0 263.300 1433.300)" class="h">2-3AUDIO</text>
<text transform="matrix(0 -1 1 0 295 1491.700)" class="k" textLength="158">Only AUDIO side is available</text></g>
<g id="R59"><use href="#z" x="41.700" y="1501.700"/><text transform="matrix(0 -1 1 0 50 1491.700)">R59</text><text transform="matrix(0 -1 1 0 61 1491.700)">10K/1%/1608</text></g>
<g id="JP17"><rect class="bx" x="104" y="1491.700" width="32" height="21.600"/>
<text transform="matrix(0 -1 1 0 114 1490)">JP17</text><text transform="matrix(0 -1 1 0 126.700 1489.300)">FFC-2AMEP1</text>
<text transform="matrix(0 1 -1 0 115 1497.300)" class="n">1</text><text transform="matrix(0 1 -1 0 130 1497.300)" class="n">2</text>
<text transform="matrix(0 1 -1 0 96.700 1507.300)" class="p">1</text><text transform="matrix(0 1 -1 0 148.300 1507.300)" class="p">2</text>
<text transform="matrix(0 -1 1 0 97.300 1471)" class="g" textLength="60" lengthAdjust="spacingAndGlyphs">No Mount</text></g>
<g id="CN14"><rect class="bx" x="114.700" y="1555.700" width="64.300" height="43.300"/>
<path class="u" d="M136.700 1555.700V1578l2-1.500M136.700 1578l-2-1.500M157.700 1555.700V1571.700l-3 1M168.300 1555.700V1595H157.300M130.700 1593.300H157.300V1598.300H130.700Z"/>
<use href="#X" x="126" y="1523"/><use href="#X" x="136.700" y="1523"/>
<text transform="matrix(0 -1 1 0 114 1598.300)">CN14</text><text transform="matrix(0 -1 1 0 188.300 1598.300)">3.6mm Jack</text><text transform="matrix(0 -1 1 0 200 1598.300)">SJ-3523-SMT</text>
<text transform="matrix(0 -1 1 0 124.300 1566.700)" class="s">NC</text><text transform="matrix(0 -1 1 0 135 1566.700)" class="l">R</text><text transform="matrix(0 -1 1 0 156.700 1566.700)" class="l">L</text><text transform="matrix(0 -1 1 0 167 1591.700)" class="s">SLEEVE</text>
<text transform="matrix(0 -1 1 0 122.300 1549.300)" class="p">4</text><text transform="matrix(0 -1 1 0 133.300 1549.300)" class="p">3</text><text transform="matrix(0 -1 1 0 154.300 1549.300)" class="p">2</text><text transform="matrix(0 -1 1 0 165 1549.300)" class="p">1</text></g>
<g id="silk-mic"><rect class="sk" x="211" y="1541" width="36.300" height="100.500"/><text transform="matrix(0 -1 1 0 235 1625)" class="h">Silk MIC</text></g>

<g id="JP12"><rect class="bx" x="967.300" y="1268.300" width="42.700" height="31.700"/><use href="#X" x="999.300" y="1256.700"/>
<text transform="matrix(0 -1 1 0 966 1299.300)">JP12</text><text transform="matrix(0 -1 1 0 1020 1310)">FFC-3AMEP1</text>
<text transform="matrix(0 -1 1 0 983.300 1278.300)" class="n">3</text><text transform="matrix(0 -1 1 0 1005 1278.300)" class="n">1</text><text transform="matrix(0 -1 1 0 994.300 1295)" class="n">2</text>
<text transform="matrix(0 -1 1 0 975 1261)" class="p">3</text><text transform="matrix(0 -1 1 0 996 1261)" class="p">1</text><text transform="matrix(0 -1 1 0 985.700 1312.700)" class="p">2</text></g>
<g id="silk-right"><rect class="sk" x="1031" y="1210.700" width="68.300" height="100"/>
<text transform="matrix(0 -1 1 0 1056 1295)" class="h">Silk</text><text transform="matrix(0 -1 1 0 1070 1295)" class="h">1-2 MCU</text><text transform="matrix(0 -1 1 0 1083.300 1295)" class="h">2-3AUDIO</text>
<text transform="matrix(0 -1 1 0 1116 1299.300)" class="k" textLength="158">Only AUDIO side is available</text></g>
<g id="C97"><use href="#C" transform="translate(989 1395.700) rotate(-90)"/><text transform="matrix(0 -1 1 0 987.300 1385)">C97</text><text transform="matrix(0 -1 1 0 977.300 1438.300)">47uF/X5R/6.3V/2125</text></g>
<g id="silk-headphone"><rect class="sk" x="1011.700" y="1339.300" width="60" height="114"/>
<text transform="matrix(0 -1 1 0 1010.500 1427.700)" class="k" style="font-size:12px">silk</text><text transform="matrix(0 -1 1 0 1024 1424.300)" class="k" style="font-size:12px" textLength="66.700" lengthAdjust="spacingAndGlyphs">HEADPHONE</text><text transform="matrix(0 -1 1 0 1035 1421)" class="k" style="font-size:12px" textLength="25">HIGH</text><text transform="matrix(0 -1 1 0 1058.300 1420.700)" class="k" style="font-size:12px" textLength="24">LOW</text>
<path class="sk" d="M1042.700 1426.700L1031 1438.300L1042.700 1449.300M1052.700 1427.300L1064.300 1438.300L1052.700 1449.300"/></g>
<g id="VR2"><rect x="1032.300" y="1454" width="5.400" height="11" fill="#1515e0"/><circle class="u" cx="1047" cy="1481" r="16"/>
<path d="M1033 1471A18 18 0 0 1 1050 1463" fill="none" stroke="#2233e0" stroke-width="3" stroke-dasharray="1 1.500"/><path class="u" d="M1041 1461l4 2-3 3M1031.700 1502.300l3-3 4 6 4-6 4 6 4-6 3 4 4-6 4 6 3-3M1053 1508V1523"/><polygon points="1050,1505 1056,1505 1053,1509" fill="#1515e0"/>
<text transform="matrix(0 -1 1 0 1073 1481.700)">VR2</text><text transform="matrix(0 -1 1 0 1084 1480.700)">3352T-1-103LF</text>
<text transform="matrix(0 -1 1 0 1031.700 1500.700)" class="s">CCW</text><text transform="matrix(0 -1 1 0 1070 1500.700)" class="s">CW</text><text transform="matrix(0 -1 1 0 1040 1522.300)" class="l">10K</text>
<text transform="matrix(0 1 -1 0 1023 1507)" class="p">1</text><text transform="matrix(0 1 -1 0 1076 1506)" class="p">3</text><text transform="matrix(0 -1 1 0 1049 1536)" class="p">2</text></g>
<g id="R75"><use href="#z" x="968.300" y="1566"/><text transform="matrix(0 -1 1 0 977.300 1556)">R75</text><text transform="matrix(0 -1 1 0 988.300 1556)">R/1608</text></g>
<g id="R117"><use href="#z" x="968.300" y="1608.300"/><text transform="matrix(0 -1 1 0 977.300 1642.700)">R117</text><text transform="matrix(0 -1 1 0 988.300 1669.300)">0ohm/1608</text></g>
<g id="CN16"><path class="bx" d="M1010 1691V1651.700H1074V1691"/>
<path class="u" d="M1031.700 1651.700V1675l2-1.500M1031.700 1675l-2-1.500M1053 1651.700V1668l-3 1M1063.300 1651.700V1691M1025 1691V1689.500H1053V1691"/>
<use href="#X" x="1021" y="1619.500"/>
<text transform="matrix(0 -1 1 0 1008.300 1690)">CN16</text><text transform="matrix(0 -1 1 0 1083 1690)" textLength="50">3.6mm Jack</text><text transform="matrix(0 -1 1 0 1095 1690)" textLength="53">SJ-3523-SMT</text>
<text transform="matrix(0 -1 1 0 1020 1665)" class="s">NC</text><text transform="matrix(0 -1 1 0 1030 1662.700)" class="l">R</text><text transform="matrix(0 -1 1 0 1051.700 1662.700)" class="l">L</text><text transform="matrix(0 -1 1 0 1062.700 1688.300)" class="s">SLEEVE</text>
<text transform="matrix(0 -1 1 0 1017.700 1644.300)" class="p">4</text><text transform="matrix(0 -1 1 0 1028.300 1644.300)" class="p">3</text><text transform="matrix(0 -1 1 0 1049 1644.300)" class="p">2</text><text transform="matrix(0 -1 1 0 1060 1644.300)" class="p">1</text></g>
<g id="silk-hp"><rect class="sk" x="1127.300" y="1530.700" width="37" height="142"/><text transform="matrix(0 -1 1 0 1151.700 1656.700)" class="h" style="font-size:13.500px">Silk HEADPHONE</text></g>
</svg>
